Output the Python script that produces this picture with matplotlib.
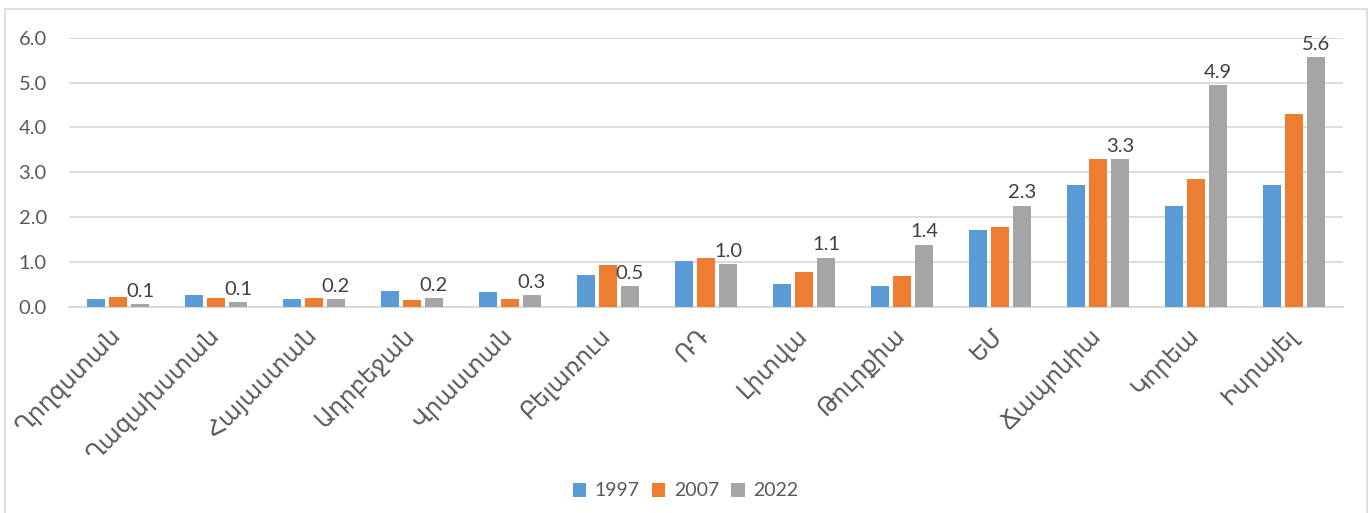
import numpy as np
import matplotlib.pyplot as plt
from matplotlib.patches import Rectangle

# data
countries = ['Ղրղզստան', 'Ղազախստան', 'Հայաստան', 'Ադրբեջան', 'Վրաստան',
             'Բելառուս', 'ՌԴ', 'Լիտվա', 'Թուրքիա', 'ԵՄ', 'Ճապոնիա',
             'Կորեա', 'Իսրայել']
years = ['1997', '2007', '2022']
v1997 = [0.18, 0.27, 0.18, 0.36, 0.34, 0.72, 1.03, 0.52, 0.47, 1.72, 2.71, 2.24, 2.71]
v2007 = [0.22, 0.20, 0.20, 0.16, 0.18, 0.94, 1.10, 0.79, 0.68, 1.79, 3.29, 2.86, 4.30]
v2022 = [0.07, 0.11, 0.18, 0.20, 0.26, 0.46, 0.96, 1.10, 1.39, 2.26, 3.29, 4.94, 5.57]

colors = ['#5B9BD5', '#ED7D31', '#A5A5A5']
text_c = '#595959'
grid_c = '#D9D9D9'
fam = ['Lato', 'DejaVu Sans']

W, H = 1371, 513
fig = plt.figure(figsize=(W / 100, H / 100), dpi=100)
ax = fig.add_axes([69 / W, 1 - 307 / H, (1343 - 69) / W, (307 - 37.7) / H])

# outer chart border
fig.patches.append(Rectangle((5 / W, -0.05), (1367 - 5) / W, 1.05 - 9 / H,
                             transform=fig.transFigure, fill=False,
                             edgecolor=grid_c, lw=1.2))

x = np.arange(len(countries))
bw = 0.184
step = 0.224
for i, (vals, yr) in enumerate(zip([v1997, v2007, v2022], years)):
    bars = ax.bar(x + (i - 1) * step, vals, bw, color=colors[i], label=yr, zorder=3)
    if i == 2:
        ax.bar_label(bars, labels=[f'{v:.1f}' for v in vals], padding=3,
                     fontsize=14.5, color='#404040', family=fam)

ax.set_xlim(-0.5, len(countries) - 0.5)
ax.set_ylim(0, 6)
ax.set_yticks(np.arange(0, 6.1, 1))
ax.set_yticklabels([f'{t:.1f}' for t in np.arange(0, 6.1, 1)],
                   fontsize=14.5, color=text_c, family=fam)
ax.yaxis.grid(True, color=grid_c, lw=1.3, zorder=0)
ax.set_axisbelow(True)

ax.set_xticks(x)
ax.set_xticklabels(countries, rotation=45, ha='right', va='center',
                   rotation_mode='anchor', fontsize=17, color=text_c, family=fam)
ax.tick_params(axis='both', length=0)
ax.tick_params(axis='x', pad=18)
ax.tick_params(axis='y', pad=16)

for s in ['top', 'right', 'left']:
    ax.spines[s].set_visible(False)
ax.spines['bottom'].set_color(grid_c)
ax.spines['bottom'].set_linewidth(1.5)

leg = fig.legend(loc='center', bbox_to_anchor=(0.5, 1 - 491 / H), ncol=3,
                 frameon=False, handlelength=0.7, handleheight=0.7,
                 handletextpad=0.45, columnspacing=0.6,
                 prop={'family': fam, 'size': 14})
for t in leg.get_texts():
    t.set_color(text_c)

fig.savefig('out.png', dpi=100)
